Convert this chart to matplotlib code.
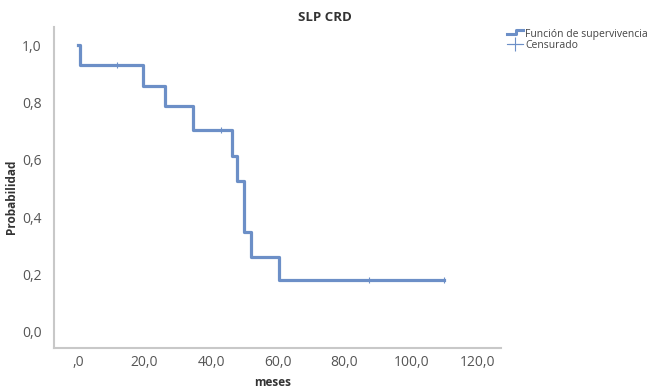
import matplotlib.pyplot as plt
from matplotlib.lines import Line2D
from matplotlib.legend_handler import HandlerBase

plt.rcParams['font.family'] = ['Open Sans', 'DejaVu Sans']

# Curva de supervivencia: tiempo de cada escalón y probabilidad desde ese tiempo
tiempos = [0.0, 0.5, 19.5, 26.2, 34.6, 46.3, 47.8, 49.9, 52.0, 60.4, 109.8]
probabilidad = [1.0, 0.929, 0.857, 0.786, 0.704, 0.613, 0.526, 0.348, 0.260, 0.181, 0.181]
censura_t = [11.7, 43.0, 87.5, 109.8]
censura_p = [0.929, 0.704, 0.181, 0.181]

x_ticks = [0, 20, 40, 60, 80, 100, 120]
x_labels = [',0', '20,0', '40,0', '60,0', '80,0', '100,0', '120,0']
y_ticks = [0.0, 0.2, 0.4, 0.6, 0.8, 1.0]
y_labels = ['0,0', '0,2', '0,4', '0,6', '0,8', '1,0']

azul = '#6c8fc7'
gris = '#c8c8c8'
texto = '#555555'


class HandlerEscalon(HandlerBase):
    def create_artists(self, legend, orig_handle, xdescent, ydescent,
                       width, height, fontsize, trans):
        xs = [0, width * 0.55, width * 0.55, width]
        ys = [height * 0.3, height * 0.3, height * 0.85, height * 0.85]
        ln = Line2D(xs, ys, color=azul, lw=2.2, transform=trans)
        return [ln]


fig = plt.figure(figsize=(6.54, 3.89), dpi=100)
ax = fig.add_axes([0.0826, 0.1054, 0.6835, 0.8252])

ax.step(tiempos, probabilidad, where='post', color=azul, lw=2.3)
ax.plot(censura_t, censura_p, linestyle='none', marker='|', markersize=5,
        markeredgewidth=0.8, color=azul)

ax.set_xlim(-7.2, 127)
ax.set_ylim(-0.056, 1.063)
ax.set_xticks(x_ticks)
ax.set_xticklabels(x_labels)
ax.set_yticks(y_ticks)
ax.set_yticklabels(y_labels)
ax.tick_params(length=0, labelsize=10, colors=texto)
ax.tick_params(axis='x', pad=5)
ax.tick_params(axis='y', pad=9)

for s in ['top', 'right']:
    ax.spines[s].set_visible(False)
for s in ['left', 'bottom']:
    ax.spines[s].set_color(gris)
    ax.spines[s].set_linewidth(1.5)

fig.text(0.497, 0.956, 'SLP CRD', fontsize=9.5, fontweight='bold', color='#333333',
         ha='center', va='center')
ax.set_xlabel('meses', fontsize=8.5, fontweight='bold', color='#333333')
ax.xaxis.set_label_coords(0.49, -0.088)
ax.set_ylabel('Probabilidad', fontsize=8.5, fontweight='bold', color='#333333')
ax.yaxis.set_label_coords(-0.08, 0.47)

h1 = Line2D([], [], color=azul, lw=2)
h2 = Line2D([], [], color=azul, marker='+', markersize=10, lw=0.8, markeredgewidth=0.8)
leg = fig.legend([h1, h2], ['Función de supervivencia', 'Censurado'],
                 handler_map={h1: HandlerEscalon()},
                 loc='upper left', bbox_to_anchor=(0.768, 0.94), frameon=False,
                 fontsize=7.5, handlelength=1.5, handletextpad=0.2, labelspacing=0.0,
                 borderpad=0)
for t in leg.get_texts():
    t.set_color('#444444')

fig.savefig('out.png', dpi=100)
